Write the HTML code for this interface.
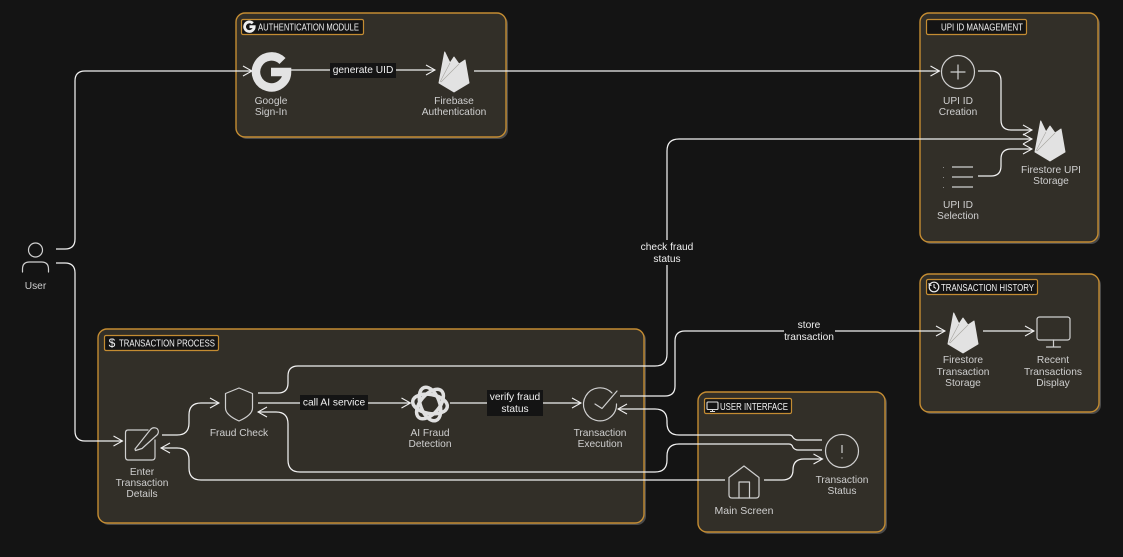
<!DOCTYPE html>
<html><head><meta charset="utf-8"><style>
html,body{margin:0;padding:0;background:#141414;overflow:hidden}
svg{display:block}
text{font-family:"Liberation Sans",sans-serif;font-size:10.2px;fill:#cfcfcf;text-anchor:middle}
.g{fill:#322f28;stroke:#c48c32;stroke-width:1.4}
.s{fill:#4a4a4a}
.lb{fill:#141414;stroke:#c48c32;stroke-width:1.2}
.lt{text-anchor:start;font-size:10px;fill:#f0f0f0}
.e{fill:none;stroke:#f0f0f0;stroke-width:1.25;marker-end:url(#a)}
.i{fill:none;stroke:#d0d0d0;stroke-width:1.2;stroke-linejoin:round;stroke-linecap:round}
.b{fill:#141414}
.t{fill:#f0f0f0}
</style></head><body>
<svg width="1123" height="557" viewBox="0 0 1123 557" xmlns="http://www.w3.org/2000/svg">
<defs>
<marker id="a" markerUnits="userSpaceOnUse" markerWidth="14" markerHeight="14" refX="11" refY="7" orient="auto"><path d="M2 2L11 7L2 12" fill="none" stroke="#f0f0f0" stroke-width="1.05"/></marker>
<g id="fire"><path d="M439 83L444.7 52L450 63L454 57L459 64L465 60L469 83L454 92Z" fill="#e2e2e2" stroke="#e2e2e2" stroke-linejoin="round"/><path d="M440 82L450 63M441 82L459 64" stroke="#a5a39e" stroke-width=".6" fill="none"/></g>
</defs>
<rect width="1123" height="557" fill="#141414"/>

<!-- groups -->
<rect class="s" x="238" y="15" width="270" height="124" rx="9"/><rect class="g" x="236" y="13" width="270" height="124" rx="9"/>
<rect class="s" x="922" y="15" width="178" height="229" rx="9"/><rect class="g" x="920" y="13" width="178" height="229" rx="9"/>
<rect class="s" x="922" y="276" width="179" height="138" rx="9"/><rect class="g" x="920" y="274" width="179" height="138" rx="9"/>
<rect class="s" x="100" y="331" width="546" height="194" rx="9"/><rect class="g" x="98" y="329" width="546" height="194" rx="9"/>
<rect class="s" x="700" y="394" width="187" height="140" rx="9"/><rect class="g" x="698" y="392" width="187" height="140" rx="9"/>

<rect class="lb" x="241.5" y="19.5" width="122" height="15" rx="1.5"/>
<text class="lt" x="258" y="30.5" textLength="101" lengthAdjust="spacingAndGlyphs">AUTHENTICATION MODULE</text>
<rect class="lb" x="926.5" y="19.5" width="100" height="15" rx="1.5"/>
<text class="lt" x="941" y="30.5" textLength="82" lengthAdjust="spacingAndGlyphs">UPI ID MANAGEMENT</text>
<rect class="lb" x="926.5" y="279.5" width="111" height="15" rx="1.5"/>
<text class="lt" x="941" y="291" textLength="93" lengthAdjust="spacingAndGlyphs">TRANSACTION HISTORY</text>
<rect class="lb" x="104.5" y="335.5" width="114" height="15" rx="1.5"/>
<text class="lt" x="119" y="346.500" textLength="96" lengthAdjust="spacingAndGlyphs">TRANSACTION PROCESS</text>
<rect class="lb" x="704.5" y="398.5" width="87" height="15" rx="1.5"/>
<text class="lt" x="720" y="410" textLength="68" lengthAdjust="spacingAndGlyphs">USER INTERFACE</text>

<!-- label icons -->
<path d="M252.800 23.300A4.800 4.800 0 1 0 254.200 26.700H249.500" fill="none" stroke="#eee" stroke-width="2.800"/>
<circle cx="934" cy="287" r="4.800" fill="none" stroke="#eee" stroke-width="1.200"/><path d="M934 284v3.200l2 1.200M929 283l.2 2.500 2.400-.3" fill="none" stroke="#eee" stroke-width="1"/>
<text x="112" y="347" style="font-size:12px;fill:#eee">$</text>
<rect x="707" y="402" width="11" height="7.500" rx="1" fill="none" stroke="#ddd" stroke-width="1.100"/><path d="M712.500 409.500v2M710 411.500h5" fill="none" stroke="#ddd" stroke-width="1"/>

<!-- edges -->
<path class="e" d="M56 249H65Q75 249 75 239V81Q75 71 85 71H252"/>
<path class="e" d="M290 70H435"/>
<path class="e" d="M474 71H939.500"/>
<path class="e" d="M978 71H991Q1001 71 1001 81V120Q1001 130 1011 130H1032"/>
<path class="e" d="M978 176H991Q1001 176 1001 166V159Q1001 149 1011 149H1032"/>
<path class="e" d="M258 393H278Q288 393 288 383V376Q288 366 298 366H655Q667 366 667 354V151Q667 139 679 139H1032"/>
<path class="e" d="M620 396H665Q675 396 675 386V341Q675 331 685 331H945"/>
<path class="e" d="M983 331H1034"/>
<path class="e" d="M822 440H798Q795 440 793 437.500Q792 435 789 435H679Q667 435 667 423V421Q667 409 655 409H618"/>
<path class="e" d="M822 450H798Q795 450 793 447.500Q792 444 789 444H679Q667 444 667 456V460Q667 472 655 472H300Q288 472 288 460V424Q288 412 276 412H258"/>
<path class="e" d="M725 480H201Q189 480 189 468V460Q189 448 177 448H161"/>
<path class="e" d="M764 480H782Q793 480 793 470Q793 459 804 459H822.500"/>
<path class="e" d="M162 435H177Q189 435 189 423V415Q189 403 201 403H219"/>
<path class="e" d="M258 403H410.500"/>
<path class="e" d="M450 403H581"/>
<path class="e" d="M56 263H65Q75 263 75 273V431Q75 441 85 441H122.500"/>

<!-- edge labels -->
<rect class="b" x="330" y="63" width="66" height="15"/><text class="t" x="363" y="73">generate UID</text>
<rect class="b" x="300" y="395" width="68" height="15"/><text class="t" x="334" y="405.500">call AI service</text>
<rect class="b" x="487" y="390" width="56" height="26"/><text class="t" x="515" y="400">verify fraud</text><text class="t" x="515" y="412">status</text>
<rect class="b" x="640" y="240" width="54" height="25"/><text class="t" x="667" y="250">check fraud</text><text class="t" x="667" y="262">status</text>
<rect class="b" x="784" y="318" width="51" height="25"/><text class="t" x="809" y="328">store</text><text class="t" x="809" y="340">transaction</text>

<!-- User -->
<circle class="i" cx="35.500" cy="250" r="7"/>
<path class="i" d="M22.500 272V269Q22.500 262 29.500 262H41.500Q48.500 262 48.500 269V272"/>
<text x="35.500" y="289">User</text>

<!-- Google -->
<path d="M282.500 61A15.500 15.500 0 1 0 287 72H271" fill="none" stroke="#e3e3e3" stroke-width="8.500"/>
<text x="271" y="104">Google</text><text x="271" y="115">Sign-In</text>

<!-- Firebase -->
<use href="#fire"/>
<text x="454" y="104">Firebase</text><text x="454" y="115">Authentication</text>

<!-- UPI -->
<circle class="i" cx="958" cy="72" r="16.500"/><path class="i" d="M951 72H965M958 65V79"/>
<text x="958" y="104">UPI ID</text><text x="958" y="115">Creation</text>
<path d="M952 167H973M952 177H973M952 187H973" stroke="#d0d0d0" stroke-width="1.300" fill="none"/>
<path d="M943.500 167v.8M943.500 177v.8M943.500 187v.8" stroke="#aaa" stroke-width="1" fill="none"/>
<text x="958" y="208">UPI ID</text><text x="958" y="219">Selection</text>
<use href="#fire" x="596" y="69"/>
<text x="1051" y="173">Firestore UPI</text><text x="1051" y="184">Storage</text>

<!-- History -->
<use href="#fire" x="509" y="261"/>
<text x="963" y="363">Firestore</text><text x="963" y="375">Transaction</text><text x="963" y="386">Storage</text>
<rect class="i" x="1037" y="317" width="33" height="23" rx="2.500"/><path class="i" d="M1053.500 340V347M1046.500 347H1060.500"/>
<text x="1053" y="363">Recent</text><text x="1053" y="375">Transactions</text><text x="1053" y="386">Display</text>

<!-- Enter -->
<path class="i" d="M148 430H128Q125.500 430 125.500 433V457Q125.500 460 128 460H152Q155 460 155 457V440"/>
<path class="i" d="M135 449L150.500 429.500Q153 426.500 157 428.500Q159.500 431 157.500 434.500L142 448.500L135.500 450.500Z"/>
<text x="142" y="475">Enter</text><text x="142" y="486">Transaction</text><text x="142" y="497">Details</text>

<!-- Fraud check -->
<path class="i" d="M239 388L252.500 393.500V408Q252.500 415 239 421Q225.500 415 225.500 408V393.500Z"/>
<text x="239" y="436">Fraud Check</text>

<!-- AI -->
<g fill="none" stroke="#e0e0e0" stroke-width="3.500">
<ellipse cx="430" cy="404" rx="17.500" ry="9.500" transform="rotate(10 430 404)"/>
<ellipse cx="430" cy="404" rx="17.500" ry="9.500" transform="rotate(70 430 404)"/>
<ellipse cx="430" cy="404" rx="17.500" ry="9.500" transform="rotate(130 430 404)"/>
</g>
<text x="430" y="436">AI Fraud</text><text x="430" y="447">Detection</text>

<!-- Execution -->
<path class="i" d="M612 393A16.500 16.500 0 1 0 616.500 404"/>
<path class="i" d="M595 404L602 408.500L617 391"/>
<text x="600" y="436">Transaction</text><text x="600" y="447">Execution</text>

<!-- Status -->
<circle class="i" cx="842" cy="451" r="16.500"/>
<path d="M842 445V453M842 457.500V458.500" stroke="#d0d0d0" stroke-width="1.200" fill="none"/>
<text x="842" y="483">Transaction</text><text x="842" y="494">Status</text>

<!-- Main -->
<path class="i" d="M744 466L759 477.500V495Q759 498 756 498H732Q729 498 729 495V477.500Z"/>
<path class="i" d="M739 498V482H749.500V498"/>
<text x="744" y="514" style="font-size:10.500px">Main Screen</text>
</svg>
</body></html>
